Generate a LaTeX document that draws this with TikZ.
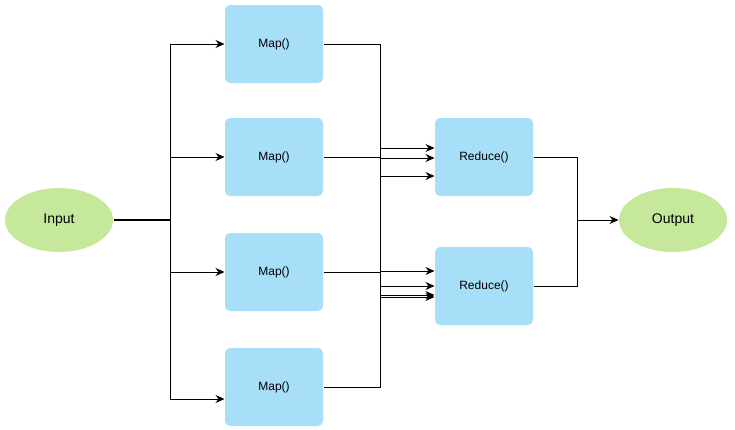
\documentclass[tikz,border=0pt]{standalone}
\usepackage{fontspec}
\setmainfont{Liberation Sans}
\usetikzlibrary{arrows.meta}
\usetikzlibrary{shapes.geometric}
\definecolor{mapblue}{HTML}{A8DFF8}
\definecolor{iogreen}{HTML}{C6E89B}
\tikzset{
  task/.style={fill=mapblue, rounded corners=5pt, minimum width=98pt, minimum height=78pt, font=\fontsize{12}{14}\selectfont},
  io/.style={ellipse, fill=iogreen, minimum width=108pt, minimum height=64pt, inner sep=0pt, font=\fontsize{14}{16}\selectfont},
  arr/.style={-{Stealth[length=9pt,width=8pt,inset=3pt]}},
}
\begin{document}
\begin{tikzpicture}[x=1pt,y=-1pt,line width=1pt]
  \useasboundingbox (0,0) rectangle (735,429);
  % input and output
  \node[io] (in) at (59,220) {Input};
  \node[io] (out) at (673,220) {Output};
  % map tasks
  \node[task] (m1) at (274,44) {Map()};
  \node[task] (m2) at (274,157) {Map()};
  \node[task] (m3) at (274,272) {Map()};
  \node[task] (m4) at (274,387) {Map()};
  % reduce tasks
  \node[task] (r1) at (484,157) {Reduce()};
  \node[task] (r2) at (484,286) {Reduce()};
  % split input to the maps
  \coordinate (split) at (170,220);
  \draw[line width=1.8pt] (in) -- (split);
  \draw[arr] (split) |- (m1.west);
  \draw[arr] (split) |- (m2.west);
  \draw[arr] (split) |- (m3.west);
  \draw[arr] (split) |- ([yshift=-12pt]m4.west);
  % maps to the bus
  \coordinate (busT) at (380,44);
  \coordinate (busB) at (380,387);
  \draw (m1.east) -- (busT) -- (busB) -- (m4.east);
  \draw (m2.east) -- (m2.east -| busT);
  \draw (m3.east) -- (m3.east -| busT);
  % bus to the reducers
  \foreach \dy in {-9,1,19} \draw[arr] (r1.west) ++(-55,\dy) -- ++(55,0);
  \foreach \dy in {-15,0,9,11} \draw[arr] (r2.west) ++(-55,\dy) -- ++(55,0);
  % reducers to output
  \coordinate (join) at (577,220);
  \draw (r1.east) -| (join) |- (r2.east);
  \draw[arr] (join) -- (out);
\end{tikzpicture}
\end{document}
